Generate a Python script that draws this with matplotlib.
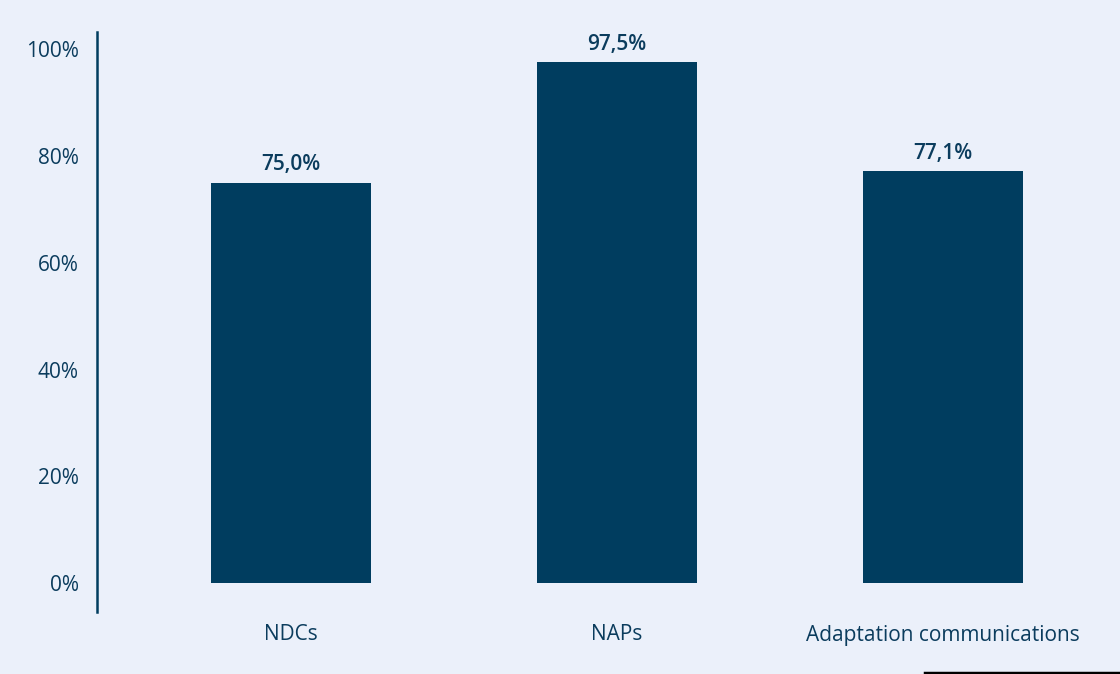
import matplotlib
matplotlib.use("Agg")
import matplotlib.pyplot as plt
from matplotlib.lines import Line2D

categories = ["NDCs", "NAPs", "Adaptation communications"]
values = [75.0, 97.5, 77.1]
value_labels = ["75,0%", "97,5%", "77,1%"]
y_ticks = [0, 20, 40, 60, 80, 100]
y_tick_labels = ["0%", "20%", "40%", "60%", "80%", "100%"]

bg = "#EBF0FA"
bar_color = "#003D5F"
text_color = "#0B3C5D"

plt.rcParams["font.family"] = ["Open Sans", "DejaVu Sans"]

fig = plt.figure(figsize=(11.2, 6.74), dpi=100, facecolor=bg)
ax = fig.add_axes([97 / 1120, 62 / 674, 1 - 97 / 1120, (612 - 32) / 674])
ax.set_facecolor(bg)

x = list(range(len(categories)))
ax.bar(x, values, width=0.49, color=bar_color)

for xi, v, lab in zip(x, values, value_labels):
    ax.annotate(lab, (xi, v), xytext=(0, 5.5), textcoords="offset points",
                ha="center", va="bottom", fontsize=15, fontweight="semibold",
                color=text_color)

ax.set_xlim(-0.595, 2.543)
ax.set_ylim(-5.4, 103.2)
ax.set_xticks(x)
ax.set_xticklabels(categories, fontsize=15, color=text_color)
ax.set_yticks(y_ticks)
ax.set_yticklabels(y_tick_labels, fontsize=15, color=text_color)
ax.tick_params(axis="both", length=0)
ax.tick_params(axis="y", pad=13)
ax.tick_params(axis="x", pad=9)

for side in ["top", "right", "bottom"]:
    ax.spines[side].set_visible(False)
ax.spines["left"].set_color(bar_color)
ax.spines["left"].set_linewidth(1.8)

fig.add_artist(Line2D([925 / 1120, 1.0], [1.5 / 674, 1.5 / 674],
                      transform=fig.transFigure, color="black", linewidth=2.5))

fig.savefig("out.png", dpi=100, facecolor=bg)
